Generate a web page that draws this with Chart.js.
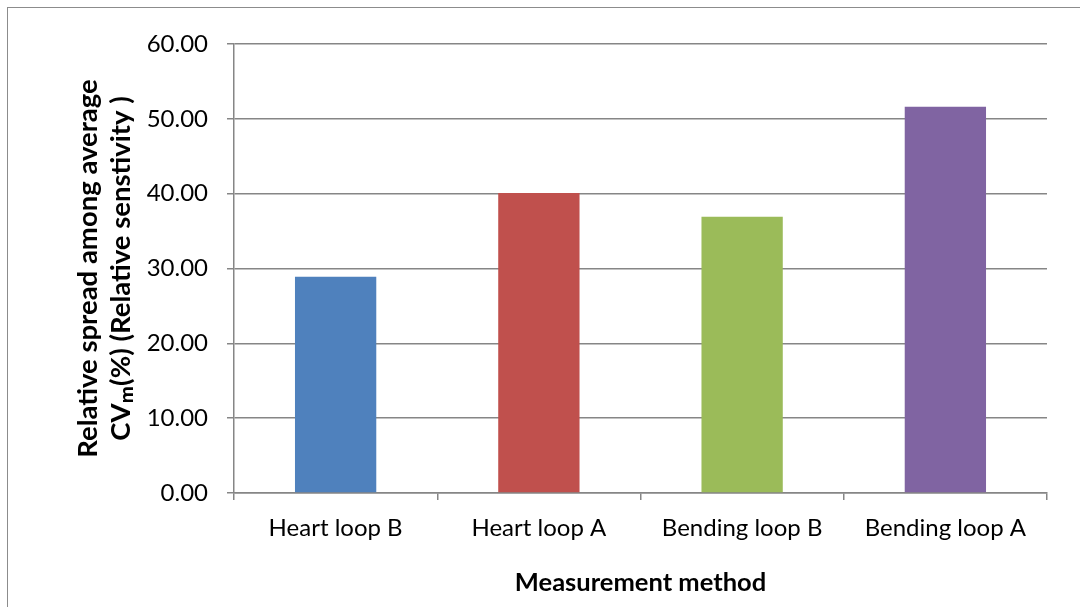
<!DOCTYPE html>
<html>
<head>
<meta charset="utf-8">
<script src="https://cdn.jsdelivr.net/npm/chart.js@4/dist/chart.umd.min.js"></script>
<style>
  html, body { margin: 0; padding: 0; background: #fff; overflow: hidden; }
  #frame { position: absolute; left: 7px; top: 7px; width: 1200px; height: 800px; border: 1px solid #8c8c8c; }
  #wrap { position: absolute; left: 0; top: 0; width: 1080px; height: 607px; }
</style>
</head>
<body>
<div id="frame"></div>
<div id="wrap"><canvas id="barChart" width="1080" height="607"></canvas></div>
<script>
// data
const methods = ['Heart loop B', 'Heart loop A', 'Bending loop B', 'Bending loop A'];
const spreadValues = [28.9, 40.1, 36.9, 51.6];
const barColors = ['#4F81BD', '#C0504D', '#9BBB59', '#8064A2'];
const yTicks = [0, 10, 20, 30, 40, 50, 60];

const gridGray = '#868686';
const fontFamily = 'Lato, "Open Sans", sans-serif';

document.addEventListener("DOMContentLoaded", function () {
  const ctx = document.getElementById('barChart').getContext('2d');
  new Chart(ctx, {
    type: 'bar',
    data: {
      labels: methods,
      datasets: [{
        data: spreadValues,
        backgroundColor: barColors,
        borderWidth: 0,
        categoryPercentage: 1,
        barPercentage: 0.4
      }]
    },
    options: {
      responsive: false,
      animation: false,
      layout: { padding: { left: 0, top: 44, right: 33, bottom: 8 } },
      plugins: {
        legend: { display: false },
        tooltip: { enabled: false }
      },
      scales: {
        x: {
          afterFit: function (s) { s.height = 106; },
          grid: {
            offset: true,
            drawOnChartArea: false,
            drawTicks: true,
            tickLength: 7,
            color: gridGray,
            lineWidth: 1.5
          },
          border: { color: gridGray, width: 1.5 },
          ticks: {
            color: '#000',
            padding: 14,
            font: { family: fontFamily, size: 24 }
          },
          title: {
            display: true,
            text: 'Measurement method',
            color: '#000',
            padding: { top: 0, bottom: 2 },
            font: { family: fontFamily, size: 25.5, weight: 'bold', lineHeight: 1.1 }
          }
        },
        y: {
          min: 0,
          max: 60,
          afterFit: function (s) { s.width = 234; },
          afterBuildTicks: function (s) { s.ticks = yTicks.map(v => ({ value: v })); },
          grid: {
            color: gridGray,
            lineWidth: 1.5,
            tickLength: 7
          },
          border: { color: gridGray, width: 1.5 },
          ticks: {
            color: '#000',
            padding: 19,
            font: { family: fontFamily, size: 24 },
            callback: function (v) { return Number(v).toFixed(2); }
          },
          title: {
            display: true,
            text: ['Relative spread among average', 'CV\u2098(%) (Relative senstivity )'],
            color: '#000',
            padding: { top: 72, bottom: 0 },
            font: { family: fontFamily, size: 27.5, weight: 'bold', lineHeight: 1.2 }
          }
        }
      }
    }
  });
});
</script>
</body>
</html>
